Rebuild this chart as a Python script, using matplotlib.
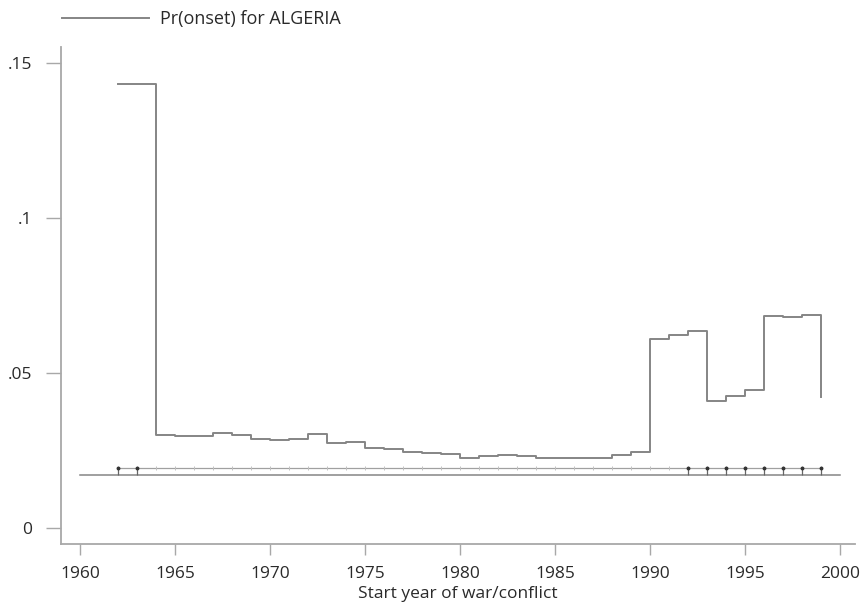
import numpy as np
import matplotlib
matplotlib.use("Agg")
import matplotlib.pyplot as plt

plt.rcParams['font.family'] = ['Open Sans', 'DejaVu Sans']

# Predicted probability of onset by start year (step function)
years = list(range(1962, 2000))
pr_onset = [0.1434, 0.1434, 0.0300, 0.0295, 0.0298, 0.0305, 0.0301, 0.0286,
            0.0283, 0.0286, 0.0304, 0.0273, 0.0277, 0.0259, 0.0255, 0.0246,
            0.0242, 0.0239, 0.0227, 0.0232, 0.0234, 0.0231, 0.0227, 0.0227,
            0.0226, 0.0227, 0.0234, 0.0246, 0.0609, 0.0623, 0.0636, 0.0411,
            0.0427, 0.0445, 0.0685, 0.0682, 0.0686, 0.0424]

# Reference band lines
base_level = 0.0172
upper_level = 0.0194
base_span = [1960, 2000]
marked_years = [1962, 1963, 1992, 1993, 1994, 1995, 1996, 1997, 1998, 1999]

xticks = [1960, 1965, 1970, 1975, 1980, 1985, 1990, 1995, 2000]
yticks = [0, 0.05, 0.1, 0.15]
ytick_labels = ["0", ".05", ".1", ".15"]

legend_label = "Pr(onset) for ALGERIA"
xlabel = "Start year of war/conflict"

fig = plt.figure(figsize=(8.62, 6.10), dpi=100)
ax = fig.add_axes([61 / 862, 66 / 610, (855 - 61) / 862, (544 - 47) / 610])

line_col = "#858585"
axis_col = "#a8a8a8"
text_col = "#2a2a2a"

# Baseline and upper reference line
ax.plot(base_span, [base_level, base_level], color=line_col, lw=1.1)
ax.plot([years[0], years[-1]], [upper_level, upper_level], color="#a0a0a0", lw=0.9)
ax.plot(years, [upper_level] * len(years), linestyle="none", marker="|",
        markersize=2.5, color="#c0c0c0", markeredgewidth=0.7)
ax.vlines(marked_years, base_level, upper_level, color="#666666", lw=0.9)
ax.plot(marked_years, [upper_level] * len(marked_years), linestyle="none",
        marker="o", markersize=1.8, color="#333333")

# Main step series
step_line, = ax.step(years, pr_onset, where="post", color=line_col, lw=1.4,
                     label=legend_label)

ax.set_xlim(1959.0, 2000.8)
ax.set_ylim(-0.0052, 0.1552)

ax.set_xticks(xticks)
ax.set_yticks(yticks)
ax.set_yticklabels(ytick_labels)

for side in ("top", "right"):
    ax.spines[side].set_visible(False)
for side in ("left", "bottom"):
    ax.spines[side].set_color(axis_col)
    ax.spines[side].set_linewidth(1.3)

ax.tick_params(axis="x", length=8, width=1.0, color=axis_col, labelsize=12.5,
               labelcolor=text_col, pad=8)
ax.tick_params(axis="y", length=11, width=1.0, color=axis_col, labelsize=12.5,
               labelcolor=text_col, pad=10)

ax.set_xlabel(xlabel, fontsize=12.5, color=text_col, labelpad=3)

fig.legend(handles=[step_line], loc="center left",
           bbox_to_anchor=(46 / 862, 1 - 19 / 610), frameon=False,
           handlelength=4.8, handletextpad=0.6, fontsize=13,
           labelcolor=text_col)

fig.savefig("out.png", dpi=100, facecolor="white")
